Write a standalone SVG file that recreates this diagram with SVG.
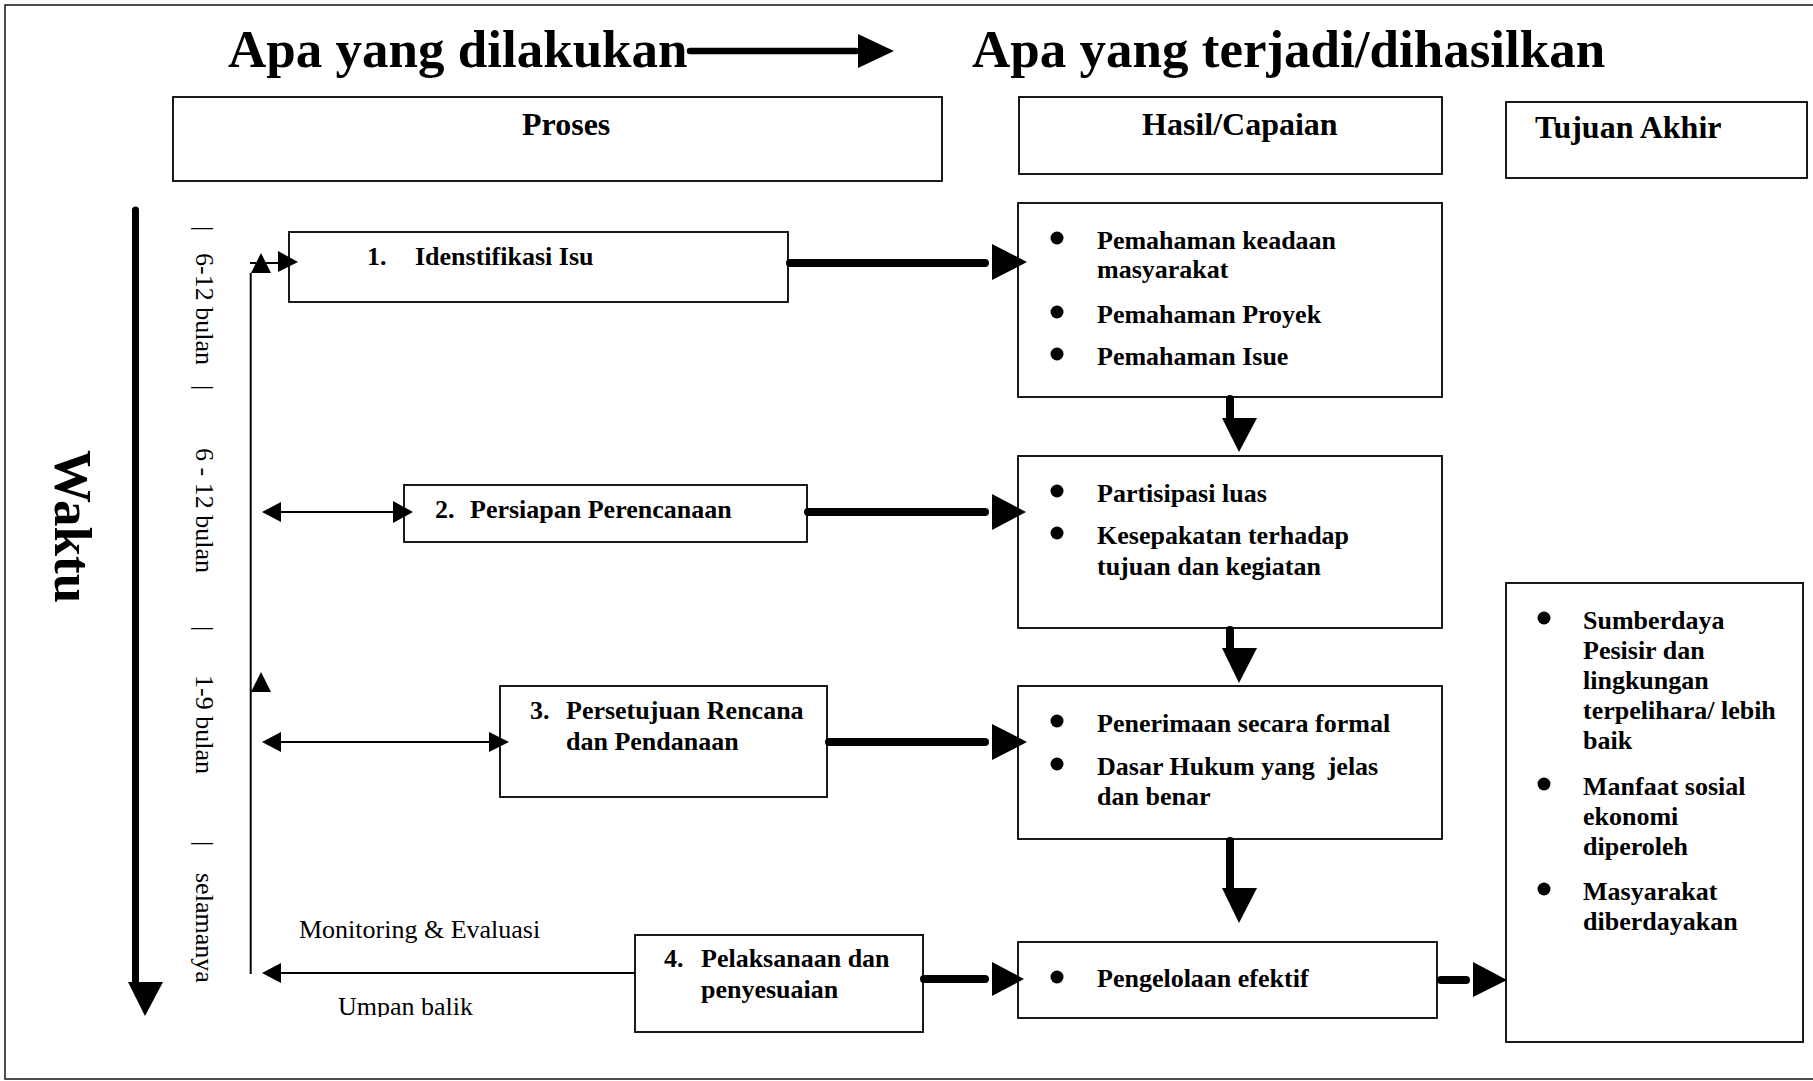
<svg xmlns="http://www.w3.org/2000/svg" width="1813" height="1081" viewBox="0 0 1813 1081">
<style>
text{font-family:"Liberation Serif","Times New Roman",serif;fill:#000}
.b{font-weight:bold}
.t{font-size:53px;font-weight:bold}
.h{font-size:32px;font-weight:bold}
.n{font-size:26px;font-weight:bold}
.r{font-size:26px}
.box{fill:#fff;stroke:#000;stroke-width:1.8}
.thin{stroke:#000;stroke-width:2;fill:none}
.thick{stroke:#000;stroke-width:8;stroke-linecap:round;fill:none}
.head{fill:#000;stroke:none}
</style>
<defs>
<clipPath id="clipUB"><rect x="0" y="0" width="1813" height="1017"/></clipPath>
</defs>
<rect x="0" y="0" width="1813" height="1081" fill="#fff"/>
<rect x="5" y="5" width="1815" height="1074" fill="none" stroke="#222" stroke-width="1.6"/>

<g id="title">
<text class="t" x="228" y="67">Apa yang dilakukan</text>
<line x1="690" y1="51" x2="856" y2="51" stroke="#000" stroke-width="6.5" stroke-linecap="round"/>
<polygon class="head" points="858,34 858,68 894,51"/>
<text class="t" x="972" y="67">Apa yang terjadi/dihasilkan</text>
</g>

<g id="hdr-proses"><rect class="box" x="173" y="97" width="769" height="84"/><text class="h" x="522" y="135">Proses</text></g>
<g id="hdr-hasil"><rect class="box" x="1019" y="97" width="423" height="77"/><text class="h" x="1142" y="135">Hasil/Capaian</text></g>
<g id="hdr-tujuan"><rect class="box" x="1506" y="102" width="301" height="76"/><text class="h" x="1535" y="138">Tujuan Akhir</text></g>

<g id="waktu">
<line x1="135.5" y1="210" x2="135.5" y2="984" stroke="#000" stroke-width="7" stroke-linecap="round"/>
<polygon class="head" points="128,982 163,982 145,1016"/>
<text class="t" transform="translate(55,450) rotate(90)">Waktu</text>
</g>

<g id="timeline">
<text class="r" transform="translate(196,226) rotate(90)">|</text>
<text class="r" transform="translate(196,253) rotate(90)">6-12 bulan</text>
<text class="r" transform="translate(196,385) rotate(90)">|</text>
<text class="r" transform="translate(196,448) rotate(90)">6 - 12 bulan</text>
<text class="r" transform="translate(196,626) rotate(90)">|</text>
<text class="r" transform="translate(196,675) rotate(90)">1-9 bulan</text>
<text class="r" transform="translate(196,841) rotate(90)">|</text>
<text class="r" transform="translate(196,873) rotate(90)">selamanya</text>
</g>

<g id="p1"><rect class="box" x="289" y="232" width="499" height="70"/><text class="n" x="367" y="265">1.</text><text class="n" x="415" y="265">Idenstifikasi Isu</text></g>
<g id="p2"><rect class="box" x="404" y="485" width="403" height="57"/><text class="n" x="435" y="518">2.</text><text class="n" x="470" y="518">Persiapan Perencanaan</text></g>
<g id="p3"><rect class="box" x="500" y="686" width="327" height="111"/><text class="n" x="530" y="719">3.</text><text class="n" x="566" y="719">Persetujuan Rencana</text><text class="n" x="566" y="750">dan Pendanaan</text></g>
<g id="p4"><rect class="box" x="635" y="935" width="288" height="97"/><text class="n" x="664" y="967">4.</text><text class="n" x="701" y="967">Pelaksanaan dan</text><text class="n" x="701" y="998">penyesuaian</text></g>

<g id="h1"><rect class="box" x="1018" y="203" width="424" height="194"/>
<circle cx="1057" cy="238" r="6.5"/><text class="n" x="1097" y="249">Pemahaman keadaan</text><text class="n" x="1097" y="278">masyarakat</text>
<circle cx="1057" cy="312" r="6.5"/><text class="n" x="1097" y="323">Pemahaman Proyek</text>
<circle cx="1057" cy="354" r="6.5"/><text class="n" x="1097" y="365">Pemahaman Isue</text></g>
<g id="h2"><rect class="box" x="1018" y="456" width="424" height="172"/>
<circle cx="1057" cy="491" r="6.5"/><text class="n" x="1097" y="502">Partisipasi luas</text>
<circle cx="1057" cy="533" r="6.5"/><text class="n" x="1097" y="544">Kesepakatan terhadap</text><text class="n" x="1097" y="575">tujuan dan kegiatan</text></g>
<g id="h3"><rect class="box" x="1018" y="686" width="424" height="153"/>
<circle cx="1057" cy="721" r="6.5"/><text class="n" x="1097" y="732">Penerimaan secara formal</text>
<circle cx="1057" cy="764" r="6.5"/><text class="n" x="1097" y="775" xml:space="preserve">Dasar Hukum yang  jelas</text><text class="n" x="1097" y="805">dan benar</text></g>
<g id="h4"><rect class="box" x="1018" y="942" width="419" height="76"/>
<circle cx="1057" cy="977" r="6.5"/><text class="n" x="1097" y="987">Pengelolaan efektif</text></g>

<g id="tujuan"><rect class="box" x="1506" y="583" width="297" height="459"/>
<circle cx="1544" cy="618" r="6.5"/><text class="n" x="1583" y="629">Sumberdaya</text><text class="n" x="1583" y="659">Pesisir dan</text><text class="n" x="1583" y="689">lingkungan</text><text class="n" x="1583" y="719">terpelihara/ lebih</text><text class="n" x="1583" y="749">baik</text>
<circle cx="1544" cy="784" r="6.5"/><text class="n" x="1583" y="795">Manfaat sosial</text><text class="n" x="1583" y="825">ekonomi</text><text class="n" x="1583" y="855">diperoleh</text>
<circle cx="1544" cy="889" r="6.5"/><text class="n" x="1583" y="900">Masyarakat</text><text class="n" x="1583" y="930">diberdayakan</text></g>

<g id="connectors">
<line class="thin" x1="250.7" y1="273" x2="250.7" y2="974"/>
<polygon class="head" points="251,273 271,273 261,253"/>
<polygon class="head" points="251,692 271,692 261,672"/>
<line class="thin" x1="250" y1="263" x2="280" y2="263"/>
<polygon class="head" points="278,251 278,272 298,262"/>
<line class="thin" x1="280" y1="512" x2="394" y2="512"/>
<polygon class="head" points="281,502 281,522 262,512"/>
<polygon class="head" points="393,501 393,523 413,512"/>
<line class="thin" x1="280" y1="742" x2="490" y2="742"/>
<polygon class="head" points="281,732 281,752 262,742"/>
<polygon class="head" points="489,732 489,752 509,742"/>
<line class="thin" x1="280" y1="973" x2="635" y2="973"/>
<polygon class="head" points="281,963 281,983 262,973"/>
<text class="r" x="299" y="938">Monitoring &amp; Evaluasi</text>
<text class="r" x="338" y="1015" clip-path="url(#clipUB)">Umpan balik</text>
<line class="thick" x1="790" y1="263" x2="985" y2="263"/>
<polygon class="head" points="992,244 992,280 1027,262"/>
<line class="thick" x1="808" y1="512" x2="985" y2="512"/>
<polygon class="head" points="992,494 992,530 1026,512"/>
<line class="thick" x1="829" y1="742" x2="985" y2="742"/>
<polygon class="head" points="992,724 992,760 1027,742"/>
<line class="thick" x1="924" y1="979" x2="985" y2="979"/>
<polygon class="head" points="992,962 992,996 1024,979"/>
<line class="thick" x1="1230" y1="399" x2="1230" y2="418"/>
<polygon class="head" points="1222,418 1257,418 1239,452"/>
<line class="thick" x1="1230" y1="630" x2="1230" y2="648"/>
<polygon class="head" points="1222,648 1257,648 1239,683"/>
<line class="thick" x1="1230" y1="841" x2="1230" y2="888"/>
<polygon class="head" points="1222,888 1257,888 1239,923"/>
<line class="thick" x1="1441" y1="980" x2="1466" y2="980"/>
<polygon class="head" points="1473,962 1473,997 1507,980"/>
</g>
</svg>
